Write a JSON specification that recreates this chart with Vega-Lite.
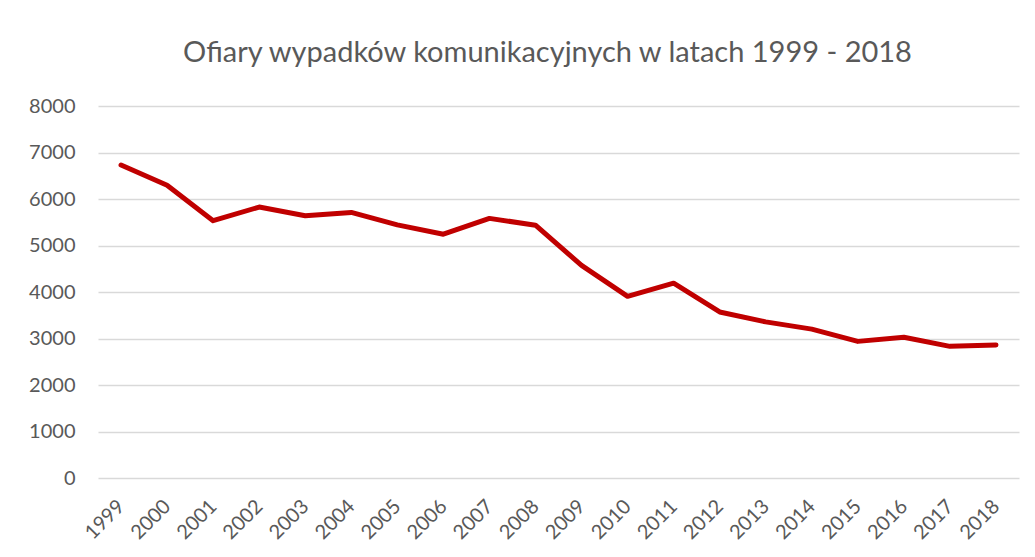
{
  "$schema": "https://vega.github.io/schema/vega-lite/v6.json",
  "autosize": "none",
  "width": 921,
  "height": 372,
  "padding": {"left": 98, "top": 106, "right": 16, "bottom": 79},
  "background": "white",
  "title": {
    "text": "Ofiary wypadków komunikacyjnych w latach 1999 - 2018",
    "font": "Lato",
    "fontSize": 29,
    "fontWeight": "normal",
    "color": "#595959",
    "anchor": "middle",
    "baseline": "alphabetic",
    "offset": 39,
    "dx": -11,
    "dy": 34
  },
  "data": {
    "values": [
      {"rok": "1999", "ofiary": 6730},
      {"rok": "2000", "ofiary": 6294},
      {"rok": "2001", "ofiary": 5534},
      {"rok": "2002", "ofiary": 5827},
      {"rok": "2003", "ofiary": 5640},
      {"rok": "2004", "ofiary": 5712},
      {"rok": "2005", "ofiary": 5444},
      {"rok": "2006", "ofiary": 5243},
      {"rok": "2007", "ofiary": 5583},
      {"rok": "2008", "ofiary": 5437},
      {"rok": "2009", "ofiary": 4572},
      {"rok": "2010", "ofiary": 3907},
      {"rok": "2011", "ofiary": 4189},
      {"rok": "2012", "ofiary": 3571},
      {"rok": "2013", "ofiary": 3357},
      {"rok": "2014", "ofiary": 3202},
      {"rok": "2015", "ofiary": 2938},
      {"rok": "2016", "ofiary": 3026},
      {"rok": "2017", "ofiary": 2831},
      {"rok": "2018", "ofiary": 2862}
    ]
  },
  "mark": {"type": "line", "color": "#C00000", "strokeWidth": 5, "strokeCap": "round", "strokeJoin": "round"},
  "encoding": {
    "x": {
      "field": "rok",
      "type": "ordinal",
      "scale": {"type": "point", "padding": 0.5},
      "axis": {
        "title": null,
        "labelAngle": -45,
        "labelAlign": "right",
        "labelBaseline": "middle",
        "labelPadding": 25,
        "labelFont": "Lato",
        "labelFontSize": 20,
        "labelColor": "#595959",
        "ticks": false,
        "domain": false,
        "grid": false
      }
    },
    "y": {
      "field": "ofiary",
      "type": "quantitative",
      "scale": {"domain": [0, 8000], "nice": false},
      "axis": {
        "title": null,
        "values": [0, 1000, 2000, 3000, 4000, 5000, 6000, 7000, 8000],
        "format": "d",
        "labelFont": "Lato",
        "labelFontSize": 20,
        "labelColor": "#595959",
        "labelPadding": 23,
        "ticks": false,
        "domain": false,
        "grid": true,
        "gridColor": "#D9D9D9",
        "gridWidth": 1.5
      }
    }
  },
  "config": {"view": {"stroke": null}}
}
